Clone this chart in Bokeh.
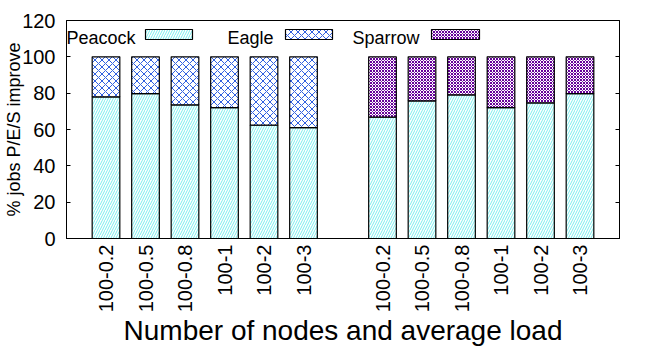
import numpy as np
from bokeh.plotting import figure
from bokeh.models import Range1d, FixedTicker, LinearAxis, Label, BoxAnnotation
from bokeh.embed import file_html
from bokeh.resources import INLINE

# ---- data ----
loads = ["100-0.2", "100-0.5", "100-0.8", "100-1", "100-2", "100-3"]
peacock_vs_eagle = [78.0, 79.7, 73.6, 72.0, 62.4, 61.0]
eagle = [100 - v for v in peacock_vs_eagle]
peacock_vs_sparrow = [66.8, 75.8, 79.1, 72.0, 74.7, 79.7]
sparrow = [100 - v for v in peacock_vs_sparrow]
group1_x = [0, 1, 2, 3, 4, 5]
group2_x = [7, 8, 9, 10, 11, 12]
y_ticks = [0, 20, 40, 60, 80, 100, 120]
series_names = ["Peacock", "Eagle", "Sparrow"]

FONT = "Liberation Sans"
W, H = 650, 350
BL, BR, BT, BB = 66, 31, 20, 112
X0, X1, Y0, Y1 = -1, 13, 0, 120

p = figure(width=W, height=H, x_range=Range1d(X0, X1), y_range=Range1d(Y0, Y1),
           output_backend="svg", toolbar_location=None,
           min_border_left=BL, min_border_right=BR, min_border_top=BT, min_border_bottom=BB)
p.grid.visible = False
p.outline_line_color = "black"
p.outline_line_width = 1
p.outline_line_alpha = 1
p.background_fill_color = "white"
p.border_fill_color = "white"

fw = W - BL - BR
fh = H - BT - BB
def dx(fx):
    return X0 + (fx - BL) / fw * (X1 - X0)
def dy(fy):
    return Y0 + (H - BB - fy) / fh * (Y1 - Y0)

styles = {
    "Peacock": dict(hatch_pattern="/", hatch_color="#7aeeee", hatch_scale=5, hatch_weight=1),
    "Eagle": dict(hatch_pattern="x", hatch_color="#2f5fe0", hatch_scale=7, hatch_weight=1),
    "Sparrow": dict(hatch_pattern="x", hatch_color="#650099", hatch_scale=3, hatch_weight=1),
}
bar_kw = dict(width=0.7, fill_color="white", line_color="black", line_width=1.2)

tops1 = [a + b for a, b in zip(peacock_vs_eagle, eagle)]
tops2 = [a + b for a, b in zip(peacock_vs_sparrow, sparrow)]
p.vbar(x=group1_x, bottom=0, top=peacock_vs_eagle, **bar_kw, **styles["Peacock"])
p.vbar(x=group1_x, bottom=peacock_vs_eagle, top=tops1, **bar_kw, **styles["Eagle"])
p.vbar(x=group2_x, bottom=0, top=peacock_vs_sparrow, **bar_kw, **styles["Peacock"])
p.vbar(x=group2_x, bottom=peacock_vs_sparrow, top=tops2, **bar_kw, **styles["Sparrow"])

# x axis
xt = group1_x + group2_x
xa = p.xaxis[0]
xa.ticker = FixedTicker(ticks=xt)
xa.major_label_overrides = {x: lab for x, lab in zip(xt, loads + loads)}
xa.major_label_orientation = np.pi / 2
xa.major_tick_in = 0
xa.major_tick_out = 0
xa.minor_tick_in = 0
xa.minor_tick_out = 0
xa.major_label_standoff = 6
xa.major_label_text_font = FONT
xa.major_label_text_font_size = "20px"
xa.major_label_text_color = "black"
xa.axis_line_color = "black"
xa.axis_label = "Number of nodes and average load"
xa.axis_label_text_font = FONT
xa.axis_label_text_font_size = "28px"
xa.axis_label_text_font_style = "normal"
xa.axis_label_text_color = "black"
xa.axis_label_standoff = 0

# y axis
ya = p.yaxis[0]
ya.ticker = FixedTicker(ticks=y_ticks)
ya.major_tick_in = 4
ya.major_tick_out = 0
ya.minor_tick_in = 0
ya.minor_tick_out = 0
ya.major_label_standoff = 11
ya.major_label_text_font = FONT
ya.major_label_text_font_size = "20px"
ya.major_label_text_color = "black"
ya.axis_line_color = "black"
ya.axis_label = "% jobs P/E/S improve"
ya.axis_label_text_font = FONT
ya.axis_label_text_font_size = "18px"
ya.axis_label_text_font_style = "normal"
ya.axis_label_text_color = "black"
ya.axis_label_standoff = -5

ra = LinearAxis(ticker=FixedTicker(ticks=y_ticks), major_tick_in=4, major_tick_out=0,
                minor_tick_in=0, minor_tick_out=0,
                major_label_overrides={t: "" for t in y_ticks},
                major_label_standoff=0, axis_line_color="black")
p.add_layout(ra, "right")

# legend (label then swatch, gnuplot style); labels in screen units (frame-relative)
legend_pos = [(135, 145, 192), (273, 285, 332), (419, 431, 479)]
for name, (tx, sl, sr) in zip(series_names, legend_pos):
    p.add_layout(Label(x=tx - BL, y=(H - BB) - 37.5, x_units="screen", y_units="screen",
                       text=name, text_align="right",
                       text_baseline="alphabetic", text_font=FONT,
                       text_font_size="18px", text_color="black"))
    p.add_layout(BoxAnnotation(left=dx(sl), right=dx(sr), top=dy(29), bottom=dy(39),
                               fill_color="white", fill_alpha=1, line_color="black",
                               line_alpha=1, line_width=1.2, hatch_alpha=1, **styles[name]))

open("out.html", "w").write(file_html(p, INLINE))
